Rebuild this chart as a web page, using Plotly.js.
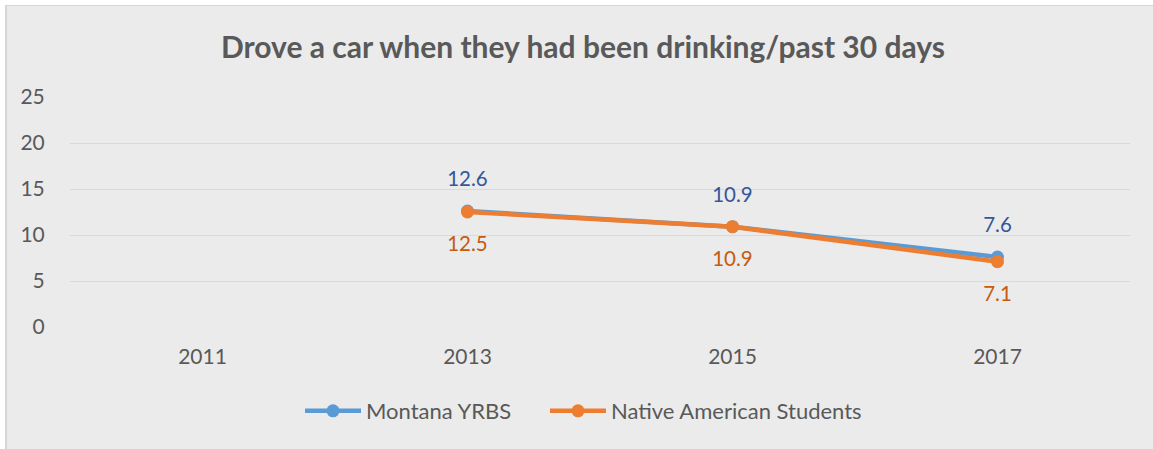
<!DOCTYPE html>
<html>
<head>
<meta charset="utf-8">
<script src="https://cdn.plot.ly/plotly-3.0.1.min.js"></script>
<style>
  html, body { margin: 0; padding: 0; background: #ffffff; }
  #wrap { position: relative; width: 1153px; height: 449px; overflow: hidden; }
  #chart { position: absolute; left: 0; top: 0; width: 1153px; height: 449px; }
  .strip { position: absolute; background: #ffffff; }
  .edge { position: absolute; background: #D6D6D6; }
</style>
</head>
<body>
<div id="wrap">
  <div id="chart"></div>
  <div class="strip" style="left:0;top:0;width:1153px;height:5px;"></div>
  <div class="strip" style="left:0;top:0;width:5px;height:449px;"></div>
  <div class="edge" style="left:5px;top:5px;width:1148px;height:1px;"></div>
  <div class="edge" style="left:5px;top:5px;width:2px;height:444px;"></div>
</div>
<script>
const years = ['2011', '2013', '2015', '2017'];
const montana = [null, 12.6, 10.9, 7.6];
const nativeAm = [null, 12.5, 10.9, 7.1];
const seriesNames = ['Montana YRBS', 'Native American Students'];
const chartTitle = 'Drove a car when they had been drinking/past 30 days';

const FONT = 'Lato, "Open Sans", sans-serif';
const BLUE = '#5B9BD5', ORANGE = '#ED7D31';
const BLUE_LBL = '#34579A', ORANGE_LBL = '#C55A11';

const fmt = arr => arr.map(v => v == null ? '' : v.toFixed(1));

const traces = [
  {x: years, y: montana, name: seriesNames[0], type: 'scatter', mode: 'lines+markers', legend: 'legend',
   line: {color: BLUE, width: 4.5}, marker: {color: BLUE, size: 13}, connectgaps: false},
  {x: years, y: nativeAm, name: seriesNames[1], type: 'scatter', mode: 'lines+markers', legend: 'legend2',
   line: {color: ORANGE, width: 4.5}, marker: {color: ORANGE, size: 13}, connectgaps: false},
  {x: years, y: montana, type: 'scatter', mode: 'markers+text', showlegend: false, hoverinfo: 'skip',
   text: fmt(montana), textposition: 'top center',
   textfont: {family: FONT, size: 20.5, color: BLUE_LBL},
   marker: {size: 30, color: 'rgba(0,0,0,0)'}},
  {x: years, y: nativeAm, type: 'scatter', mode: 'markers+text', showlegend: false, hoverinfo: 'skip',
   text: fmt(nativeAm), textposition: 'bottom center',
   textfont: {family: FONT, size: 20.5, color: ORANGE_LBL},
   marker: {size: 36, color: 'rgba(0,0,0,0)'}}
];

const legendBase = {orientation: 'h', xanchor: 'left', y: (327-411)/230, yanchor: 'middle',
  font: {family: FONT, size: 22, color: '#595959'}, bgcolor: 'rgba(0,0,0,0)', itemwidth: 56};

const layout = {
  width: 1153, height: 449,
  paper_bgcolor: '#EBEBEB', plot_bgcolor: '#EBEBEB',
  margin: {l: 70, r: 23, t: 97, b: 122},
  title: {text: '<b>' + chartTitle + '</b>', x: 583/1153, xanchor: 'center', y: 1 - 47/449, yanchor: 'middle',
          yref: 'container', font: {family: FONT, size: 30, color: '#595959'}},
  showlegend: true,
  legend: Object.assign({}, legendBase, {x: (300-70)/1060}),
  legend2: Object.assign({}, legendBase, {x: (545-70)/1060}),
  xaxis: {type: 'category', categoryorder: 'array', categoryarray: years, range: [-0.5, 3.5],
          showgrid: false, zeroline: false, showline: false,
          ticks: 'outside', ticklen: 11, tickcolor: 'rgba(0,0,0,0)',
          tickfont: {family: FONT, size: 21, color: '#595959'}},
  yaxis: {range: [0, 25], dtick: 5, tick0: 0, showgrid: true, gridcolor: '#D9D9D9', gridwidth: 1,
          zeroline: false, showline: false, ticks: 'outside', ticklen: 20, tickcolor: 'rgba(0,0,0,0)',
          tickfont: {family: FONT, size: 21, color: '#595959'}}
};

Plotly.newPlot('chart', traces, layout, {displayModeBar: false, staticPlot: true});
</script>
</body>
</html>
